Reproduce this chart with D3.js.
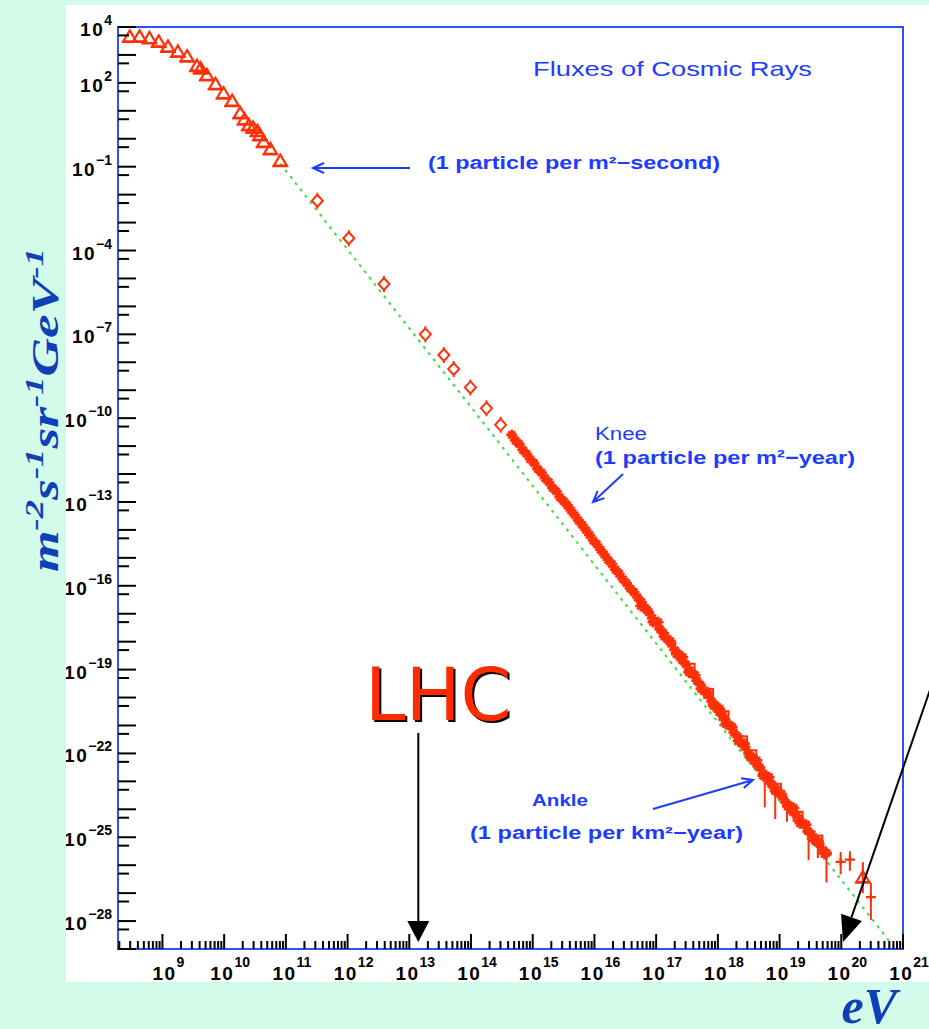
<!DOCTYPE html>
<html>
<head>
<meta charset="utf-8">
<script src="https://cdn.jsdelivr.net/npm/d3@7"></script>
<style>
body { margin: 0; background: #d3fbea; }
svg { display: block; }
</style>
</head>
<body>
<script>
// cosmic ray flux, all values as log10(E / eV) and log10(flux)
var triLogE = [8.47, 8.63, 8.79, 8.94, 9.09, 9.25, 9.40, 9.56, 9.62, 9.72, 9.86, 9.99, 10.13, 10.26, 10.33, 10.40, 10.47, 10.54, 10.58, 10.64, 10.75, 10.91];
var triLogF = [3.63, 3.63, 3.57, 3.45, 3.27, 3.09, 2.92, 2.58, 2.49, 2.25, 1.93, 1.60, 1.33, 0.89, 0.67, 0.46, 0.37, 0.25, 0.10, -0.14, -0.40, -0.82];

var diaLogE = [11.51, 12.02, 12.59, 13.26, 13.56, 13.72, 13.99, 14.25, 14.48];
var diaLogF = [-2.22, -3.56, -5.20, -7.00, -7.74, -8.24, -8.90, -9.65, -10.24];

var crossLogE = [14.66, 14.72, 14.78, 14.84, 14.90, 14.96, 15.02, 15.08, 15.14, 15.20, 15.26, 15.32, 15.38, 15.44, 15.50, 15.56, 15.62, 15.68, 15.74, 15.80, 15.86, 15.92, 15.98, 16.04, 16.10, 16.16, 16.22, 16.28, 16.34, 16.40, 16.46, 16.52, 16.58, 16.64,
  16.70, 16.76, 16.82, 16.88, 16.94, 17.00, 17.06, 17.12, 17.18, 17.24, 17.30, 17.36, 17.42, 17.48, 17.54, 17.60, 17.66, 17.72, 17.78, 17.84, 17.90, 17.96, 18.02, 18.08, 18.14, 18.20, 18.26, 18.32, 18.38, 18.44, 18.50, 18.56, 18.62, 18.68, 18.74, 18.80, 18.86, 18.92, 18.98, 19.04, 19.10, 19.16, 19.22, 19.28, 19.34, 19.40, 19.46, 19.52, 19.58, 19.64, 19.70, 19.76];
var crossLogF = [-10.60, -10.80, -10.93, -11.14, -11.28, -11.47, -11.61, -11.82, -11.95, -12.15, -12.29, -12.49, -12.62, -12.83, -12.97, -13.12, -13.30, -13.47, -13.66, -13.82, -14.00, -14.18, -14.38, -14.52, -14.71, -14.88, -15.07, -15.22, -15.42, -15.57, -15.76, -15.91, -16.10, -16.23,
  -16.42, -16.58, -16.79, -16.95, -17.16, -17.33, -17.55, -17.70, -17.90, -18.07, -18.30, -18.44, -18.66, -18.81, -19.03, -19.17, -19.40, -19.55, -19.77, -19.91, -20.14, -20.28, -20.51, -20.65, -20.88, -21.02, -21.25, -21.40, -21.63, -21.77, -22.00, -22.14, -22.37, -22.51, -22.73, -22.86, -23.08, -23.20, -23.42, -23.54, -23.76, -23.88, -24.10, -24.22, -24.44, -24.56, -24.78, -24.90, -25.11, -25.24, -25.45, -25.56];

// second experiment overlapping the band
var crossBLogE = [16.75, 16.85, 16.95, 17.03, 17.13, 17.23, 17.33, 17.43, 17.53, 17.63, 17.73, 17.83, 17.93, 18.03, 18.13, 18.23, 18.33, 18.43, 18.53, 18.63, 18.73, 18.83, 18.93, 19.03, 19.13, 19.23, 19.33, 19.43, 19.53, 19.63, 19.73];
var crossBLogF = [-16.72, -16.86, -17.30, -17.30, -17.82, -17.98, -18.45, -18.55, -19.10, -19.20, -19.70, -19.80, -20.30, -20.40, -20.95, -21.05, -21.55, -21.65, -22.15, -22.25, -22.80, -22.85, -23.35, -23.45, -23.90, -23.95, -24.50, -24.55, -25.05, -25.15, -25.60];

var sqLogE = [17.55, 17.85, 18.10, 18.40, 18.55, 18.95, 19.30, 19.62];
var sqLogF = [-18.95, -19.85, -20.65, -21.55, -22.05, -23.25, -24.25, -25.10];

// points with large error bars at the high end
var errLogE = [18.76, 18.93, 19.12, 19.47, 19.62, 19.76, 19.99, 20.14, 20.35, 20.48];
var errLogF = [-22.78, -23.20, -23.75, -24.82, -25.15, -25.62, -25.88, -25.80, -26.46, -27.14];
var errLo = [1.15, 1.15, 0.70, 1.00, 0.60, 1.00, 0.45, 0.40, 0.54, 0.82];
var errHi = [0.20, 0.20, 0.20, 0.20, 0.20, 0.20, 0.35, 0.30, 0.57, 0.50];
var errMark = ["+", "+", "+", "+", "+", "+", "+", "+", "t", "+"];

// E^-2.8 guide line
var fitLogE = [10.91, 20.80];
var fitLogF = [-0.89, -28.78];

var xLabelExp = [9, 10, 11, 12, 13, 14, 15, 16, 17, 18, 19, 20, 21];
var yLabelExp = [4, 2, -1, -4, -7, -10, -13, -16, -19, -22, -25, -28];

var svgWidth = 929, svgHeight = 1029;
var plot = {left: 118, right: 903, top: 27, bottom: 949};
var red = "#ff3008", blue = "#1e3cff", frameBlue = "#2f50ff", green = "#3ddc3d";

var svg = d3.select("body").append("svg").attr("width", svgWidth).attr("height", svgHeight);

// white page behind the plot
svg.append("rect").attr("x", 66).attr("y", 5).attr("width", svgWidth - 66).attr("height", 977).attr("fill", "#fff");
svg.append("clipPath").attr("id", "page").append("rect")
  .attr("x", 66).attr("y", 5).attr("width", svgWidth - 66).attr("height", 977);

var x = d3.scaleLog().domain([Math.pow(10, 8.28), 1e21]).range([plot.left, plot.right]);
var y = d3.scaleLog().domain([1e4, 1e-29]).range([plot.top, plot.bottom]);
var px = function(v) { return x(Math.pow(10, v)); };
var py = function(v) { return y(Math.pow(10, v)); };

// frame
svg.append("rect")
  .attr("x", plot.left).attr("y", plot.top)
  .attr("width", plot.right - plot.left).attr("height", plot.bottom - plot.top)
  .attr("fill", "none").attr("stroke", frameBlue).attr("stroke-width", 2);

// green guide
svg.append("path")
  .attr("d", d3.line().x(function(d) { return px(d[0]); }).y(function(d) { return py(d[1]); })(d3.zip(fitLogE, fitLogF)))
  .attr("fill", "none").attr("stroke", green).attr("stroke-width", 2).attr("stroke-dasharray", "3,5");

var marks = svg.append("g").attr("fill", "none").attr("stroke", red);

// triangles
var triPath = "M0,-7L6.5,4L-6.5,4ZM-8,4.5H8";
marks.selectAll(".tri").data(d3.zip(triLogE, triLogF)).enter().append("path")
  .attr("transform", function(d) { return "translate(" + px(d[0]) + "," + py(d[1]) + ")"; })
  .attr("d", triPath)
  .attr("stroke-width", 2.2);

// diamonds
marks.selectAll(".dia").data(d3.zip(diaLogE, diaLogF)).enter().append("path")
  .attr("transform", function(d) { return "translate(" + px(d[0]) + "," + py(d[1]) + ")"; })
  .attr("d", "M0,-6L5.5,0L0,6L-5.5,0ZM0,-8V-6M0,6V8")
  .attr("stroke-width", 2);

// crosses
var crossPath = "M-5.5,0H5.5M0,-5.5V5.5M-3.5,-3.5L3.5,3.5M-3.5,3.5L3.5,-3.5";
marks.selectAll(".crA").data(d3.zip(crossLogE, crossLogF)).enter().append("path")
  .attr("transform", function(d) { return "translate(" + px(d[0]) + "," + py(d[1]) + ")"; })
  .attr("d", crossPath).attr("stroke-width", 2.6);
marks.selectAll(".crB").data(d3.zip(crossBLogE, crossBLogF)).enter().append("path")
  .attr("transform", function(d) { return "translate(" + px(d[0]) + "," + py(d[1]) + ")"; })
  .attr("d", crossPath).attr("stroke-width", 2.6);
marks.selectAll(".sq").data(d3.zip(sqLogE, sqLogF)).enter().append("rect")
  .attr("x", function(d) { return px(d[0]) - 4.5; }).attr("y", function(d) { return py(d[1]) - 4.5; })
  .attr("width", 9).attr("height", 9).attr("stroke-width", 2);

// error bars
var errData = d3.range(errLogE.length).map(function(i) {
  return {e: errLogE[i], f: errLogF[i], lo: errLo[i], hi: errHi[i], m: errMark[i]};
});
marks.selectAll(".err").data(errData).enter().append("line")
  .attr("x1", function(d) { return px(d.e); }).attr("x2", function(d) { return px(d.e); })
  .attr("y1", function(d) { return py(d.f + d.hi); }).attr("y2", function(d) { return py(d.f - d.lo); })
  .attr("stroke-width", 2);
marks.selectAll(".errm").data(errData).enter().append("path")
  .attr("transform", function(d) { return "translate(" + px(d.e) + "," + py(d.f) + ")"; })
  .attr("d", function(d) { return d.m == "t" ? triPath : "M-5,0H5M0,-4V4"; })
  .attr("stroke-width", 2.2);

// y ticks: long at decades, short at 5 x 10^(n-1)
var ticks = svg.append("g").attr("stroke", "#000").attr("stroke-width", 2);
d3.range(4, -30, -1).forEach(function(n) {
  ticks.append("line").attr("x1", plot.left).attr("x2", plot.left + 18)
    .attr("y1", y(Math.pow(10, n))).attr("y2", y(Math.pow(10, n)));
  if (n > -29) {
    ticks.append("line").attr("x1", plot.left).attr("x2", plot.left + 11)
      .attr("y1", y(5 * Math.pow(10, n - 1))).attr("y2", y(5 * Math.pow(10, n - 1)));
  }
});

// x ticks: small at 2..9, tall at decades
d3.range(8, 21).forEach(function(n) {
  d3.range(2, 11).forEach(function(m) {
    var v = m * Math.pow(10, n);
    if (v < x.domain()[0] || v > 1e21) return;
    var h = m == 10 ? 15 : 8;
    ticks.append("line").attr("x1", x(v)).attr("x2", x(v))
      .attr("y1", plot.bottom).attr("y2", plot.bottom - h);
  });
});

var expText = function(e) { return String(e).replace("-", "\u2212"); };

// y labels, clipped by the page edge
var yLab = svg.append("g").attr("clip-path", "url(#page)")
  .attr("font-family", "Liberation Sans, Arial, sans-serif").attr("font-weight", "bold").attr("fill", "#000");
yLabelExp.forEach(function(e) {
  var t = yLab.append("text").attr("x", 112).attr("y", y(Math.pow(10, e)) + 9).attr("text-anchor", "end");
  t.append("tspan").attr("font-size", 19).attr("letter-spacing", 1.5).text("10");
  t.append("tspan").attr("font-size", 14).attr("dy", -11).text(expText(e));
});

// x labels
var xLab = svg.append("g")
  .attr("font-family", "Liberation Sans, Arial, sans-serif").attr("font-weight", "bold").attr("fill", "#000");
xLabelExp.forEach(function(e) {
  var t = xLab.append("text").attr("x", x(Math.pow(10, e)) + 6).attr("y", 980).attr("text-anchor", "middle");
  t.append("tspan").attr("font-size", 19).attr("letter-spacing", 1.5).text("10");
  t.append("tspan").attr("font-size", 14).attr("dy", -13).text(e);
});

// annotations
var note = svg.append("g").attr("font-family", "Liberation Sans, Arial, sans-serif").attr("fill", blue);
note.append("text").attr("x", 533).attr("y", 76).attr("font-size", 21)
  .attr("textLength", 279).attr("lengthAdjust", "spacingAndGlyphs").text("Fluxes of Cosmic Rays");
note.append("text").attr("x", 428).attr("y", 169).attr("font-size", 18).attr("font-weight", "bold")
  .attr("textLength", 292).attr("lengthAdjust", "spacingAndGlyphs").text("(1 particle per m\u00b2\u2212second)");
note.append("text").attr("x", 595).attr("y", 440).attr("font-size", 18)
  .attr("textLength", 52).attr("lengthAdjust", "spacingAndGlyphs").text("Knee");
note.append("text").attr("x", 595).attr("y", 464).attr("font-size", 19).attr("font-weight", "bold")
  .attr("textLength", 260).attr("lengthAdjust", "spacingAndGlyphs").text("(1 particle per m\u00b2\u2212year)");
note.append("text").attr("x", 532).attr("y", 806).attr("font-size", 17).attr("font-weight", "bold")
  .attr("textLength", 56).attr("lengthAdjust", "spacingAndGlyphs").text("Ankle");
note.append("text").attr("x", 470).attr("y", 839).attr("font-size", 18).attr("font-weight", "bold")
  .attr("textLength", 273).attr("lengthAdjust", "spacingAndGlyphs").text("(1 particle per km\u00b2\u2212year)");

function arrow(g, x1, y1, x2, y2, color, filled, len, wid) {
  var a = Math.atan2(y2 - y1, x2 - x1);
  var bx = x2 - len * Math.cos(a), by = y2 - len * Math.sin(a);
  var lx = bx - wid / 2 * Math.sin(a), ly = by + wid / 2 * Math.cos(a);
  var rx = bx + wid / 2 * Math.sin(a), ry = by - wid / 2 * Math.cos(a);
  if (filled) {
    g.append("line").attr("x1", x1).attr("y1", y1).attr("x2", bx).attr("y2", by)
      .attr("stroke", color).attr("stroke-width", 2);
    g.append("path").attr("d", "M" + x2 + "," + y2 + "L" + lx + "," + ly + "L" + rx + "," + ry + "Z").attr("fill", color);
  } else {
    g.append("path").attr("d", "M" + x1 + "," + y1 + "L" + x2 + "," + y2 + "M" + lx + "," + ly + "L" + x2 + "," + y2 + "L" + rx + "," + ry)
      .attr("fill", "none").attr("stroke", color).attr("stroke-width", 2);
  }
}
arrow(svg, 410, 168, 313, 168, blue, false, 11, 10);
arrow(svg, 623, 474, 593, 502, blue, false, 11, 10);
arrow(svg, 653, 809, 753, 780, blue, false, 11, 10);

// LHC, 14 TeV
svg.append("text").attr("x", 367).attr("y", 722).attr("font-family", "DejaVu Sans, sans-serif")
  .attr("font-size", 73).attr("fill", "#000").text("LHC");
svg.append("text").attr("x", 365).attr("y", 720).attr("font-family", "DejaVu Sans, sans-serif")
  .attr("font-size", 73).attr("fill", "#ff2a00").text("LHC");
arrow(svg, x(1.4e13), 733, x(1.4e13), 942, "#000", true, 21, 22);
arrow(svg, 932, 684, 843, 942, "#000", true, 26, 22);

// axis titles
var yTitle = svg.append("text")
  .attr("transform", "translate(58,572) rotate(-90)")
  .attr("font-family", "Liberation Serif, Times New Roman, serif")
  .attr("font-weight", "bold").attr("font-style", "italic").attr("fill", "#1040b8")
  .attr("font-size", 38).attr("textLength", 324).attr("lengthAdjust", "spacingAndGlyphs");
[["m", 0], ["-2", 1], ["s", 0], ["-1", 1], ["sr", 0], ["-1", 1], ["GeV", 0], ["-1", 1]].forEach(function(p) {
  yTitle.append("tspan")
    .attr("font-size", p[1] ? 26 : 38)
    .attr("dy", p[1] ? -15 : 15)
    .text(p[0]);
});
yTitle.select("tspan").attr("dy", 0);

svg.append("text").attr("x", 897).attr("y", 1023).attr("text-anchor", "end")
  .attr("font-family", "Liberation Serif, Times New Roman, serif")
  .attr("font-weight", "bold").attr("font-style", "italic").attr("fill", "#1040b8")
  .attr("font-size", 50).text("eV");
</script>
</body>
</html>
